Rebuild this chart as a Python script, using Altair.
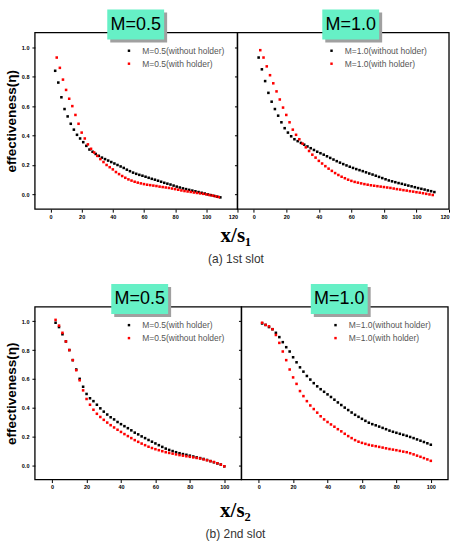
import altair as alt
import pandas as pd

# ---------------- data ----------------
# (a) 1st slot, M=0.5
TL_X_NO = [3,5,7,9,11,13,15,17,19,21,23,25,27,29,31,33,35,37,39,41,43,45,47,49,51,53,55,57,59,61,
           63,65,67,69,71,73,75,77,79,81,83,85,87,89,91,93,95,97,99,101,103,105,107,109]
TL_Y_NO = [0.84,0.76,0.66,0.58,0.53,0.48,0.44,0.405,0.38,0.355,
           0.33,0.305,0.29,0.275,0.262,0.25,0.24,0.23,0.22,0.21,
           0.20,0.19,0.18,0.168,0.158,0.148,0.14,0.133,0.127,0.12,
           0.113,0.106,0.1,0.093,0.086,0.079,0.073,0.067,0.06,0.053,
           0.047,0.041,0.036,0.031,0.026,0.021,0.016,0.011,0.006,0.0,
           -0.005,-0.01,-0.015,-0.02]
TL_X_WITH = [4,6,8,10,12,14,16,18,20,22,24,26,28,30,32,34,36,38,40,42,44,46,48,50,52,54,56,58,60,62,
             64,66,68,70,72,74,76,78,80,82,84,86,88,90,92,94,96,98,100,102,104,106,108]
TL_Y_WITH = [0.93,0.86,0.78,0.71,0.65,0.60,0.54,0.48,0.42,0.38,
             0.34,0.31,0.285,0.262,0.24,0.22,0.2,0.185,0.17,0.152,
             0.138,0.125,0.113,0.102,0.094,0.086,0.08,0.075,0.07,0.066,
             0.063,0.06,0.057,0.053,0.05,0.047,0.044,0.04,0.036,0.032,
             0.027,0.023,0.02,0.017,0.013,0.01,0.007,0.004,0.0,-0.004,
             -0.008,-0.013,-0.018]
# (a) 1st slot, M=1.0
TR_X_NO = [3,5,7,9,11,13,15,17,19,21,23,25,27,29,31,33,35,37,39,41,43,45,47,49,51,53,55,57,59,61,
           63,65,67,69,71,73,75,77,79,81,83,85,87,89,91,93,95,97,99,101,103,105,107,109,111]
TR_Y_NO = [0.93,0.85,0.77,0.69,0.63,0.58,0.535,0.49,0.45,0.42,
           0.395,0.375,0.362,0.35,0.338,0.326,0.314,0.302,0.29,0.28,
           0.27,0.259,0.248,0.237,0.226,0.216,0.206,0.197,0.188,0.18,
           0.172,0.165,0.158,0.15,0.142,0.135,0.127,0.119,0.111,0.103,
           0.095,0.089,0.083,0.077,0.072,0.066,0.06,0.055,0.049,0.043,
           0.038,0.033,0.027,0.022,0.016]
TR_X_WITH = [4,6,8,10,12,14,16,18,20,22,24,26,28,30,32,34,36,38,40,42,44,46,48,50,52,54,56,58,60,62,
             64,66,68,70,72,74,76,78,80,82,84,86,88,90,92,94,96,98,100,102,104,106,108,110]
TR_Y_WITH = [0.98,0.93,0.87,0.81,0.755,0.70,0.645,0.59,0.54,0.49,
             0.44,0.405,0.375,0.345,0.32,0.295,0.27,0.25,0.228,0.21,
             0.192,0.175,0.16,0.145,0.132,0.12,0.11,0.1,0.092,0.085,
             0.08,0.075,0.07,0.066,0.062,0.059,0.056,0.053,0.05,0.047,
             0.044,0.04,0.036,0.033,0.029,0.026,0.022,0.019,0.015,0.012,
             0.008,0.004,0.0,-0.004]
# (b) 2nd slot
B_X = [2,4,6,8,10,12,14,16,18,20,22,24,26,28,30,32,34,36,38,40,42,44,46,48,50,
       52,54,56,58,60,62,64,66,68,70,72,74,76,78,80,82,84,86,88,90,92,94,96,98,100]
BL_Y_WITH = [0.99,0.96,0.91,0.86,0.80,0.73,0.665,0.60,0.545,0.495,
             0.465,0.445,0.42,0.395,0.372,0.352,0.333,0.318,0.3,0.285,
             0.271,0.257,0.242,0.226,0.214,0.2,0.188,0.175,0.163,0.151,
             0.139,0.127,0.115,0.106,0.098,0.09,0.083,0.077,0.072,0.066,
             0.06,0.054,0.049,0.043,0.036,0.028,0.02,0.012,0.004,-0.008]
BL_Y_NO = [1.01,0.97,0.92,0.86,0.80,0.73,0.66,0.59,0.52,0.46,
           0.42,0.385,0.357,0.335,0.315,0.296,0.278,0.262,0.246,0.231,
           0.216,0.202,0.188,0.174,0.162,0.15,0.139,0.128,0.119,0.111,
           0.104,0.097,0.09,0.085,0.08,0.075,0.07,0.066,0.062,0.058,
           0.054,0.05,0.046,0.04,0.034,0.028,0.022,0.013,0.004,-0.008]
BR_Y_NO = [0.985,0.975,0.96,0.945,0.92,0.89,0.855,0.82,0.79,0.75,
           0.715,0.68,0.65,0.62,0.595,0.57,0.548,0.528,0.51,0.492,
           0.474,0.455,0.436,0.418,0.4,0.383,0.366,0.35,0.336,0.322,
           0.308,0.295,0.285,0.277,0.268,0.259,0.25,0.24,0.232,0.225,
           0.218,0.211,0.204,0.196,0.188,0.179,0.17,0.161,0.152,0.142]
BR_Y_WITH = [0.99,0.975,0.965,0.945,0.905,0.85,0.79,0.73,0.665,0.61,
             0.565,0.515,0.48,0.445,0.415,0.39,0.365,0.34,0.318,0.3,
             0.283,0.267,0.25,0.235,0.218,0.202,0.188,0.174,0.163,0.155,
             0.148,0.141,0.136,0.132,0.127,0.122,0.117,0.112,0.108,0.104,
             0.099,0.094,0.09,0.083,0.075,0.066,0.058,0.049,0.04,0.03]

Y_TICKS = [0.0, 0.2, 0.4, 0.6, 0.8, 1.0]
X_TICKS_TOP = [0, 20, 40, 60, 80, 100, 120]
X_TICKS_BOT = [0, 20, 40, 60, 80, 100]

BOX = "#66F0C6"


def panel(xk, yk, xr, yr, labels, title, w, h, xmax, xticks, left, box_dx):
    df = pd.DataFrame({
        "x": xk + xr,
        "y": yk + yr,
        "s": [labels[0]] * len(xk) + [labels[1]] * len(xr),
    })
    yaxis_kw = dict(values=Y_TICKS, format=".1f", labels=left, tickSize=3,
                    labelPadding=3)
    if left:
        yaxis_kw.update(title="effectiveness(η)", titleFont="Liberation Sans",
                        titleFontWeight="bold", titleFontSize=13.5, titlePadding=3,
                        titleColor="black")
    else:
        yaxis_kw.update(title="")
    pts = alt.Chart(df).mark_square(size=6.5, opacity=1).encode(
        x=alt.X("x:Q", scale=alt.Scale(domain=[-10, xmax], nice=False, zero=False),
                axis=alt.Axis(values=xticks, title="", tickSize=3, labelPadding=2)),
        y=alt.Y("y:Q", scale=alt.Scale(domain=[-0.1, 1.1], nice=False, zero=False),
                axis=alt.Axis(**yaxis_kw)),
        color=alt.Color("s:N", scale=alt.Scale(domain=labels, range=["#000000", "#ff0000"]),
                        legend=alt.Legend(orient="none", legendX=90, legendY=14, title="",
                                          labelFont="Liberation Sans", labelFontSize=8.5,
                                          labelColor="#555555", symbolType="square",
                                          symbolSize=6, rowPadding=4, labelOffset=9,
                                          symbolStrokeWidth=0)),
    )
    c = w / 2 + box_dx
    tdf = pd.DataFrame({"t": [title]})
    frame = alt.Chart(tdf).mark_rect(fillOpacity=0, stroke="black", strokeWidth=1.3).encode(
        x=alt.value(0), x2=alt.value(w), y=alt.value(0), y2=alt.value(h))
    shadow = alt.Chart(tdf).mark_rect(color="#a0a0a0").encode(
        x=alt.value(c - 26), x2=alt.value(c + 31), y=alt.value(-20), y2=alt.value(10))
    box = alt.Chart(tdf).mark_rect(color=BOX).encode(
        x=alt.value(c - 29), x2=alt.value(c + 28), y=alt.value(-23), y2=alt.value(7))
    txt = alt.Chart(tdf).mark_text(font="Liberation Sans", fontSize=18, color="black",
                                   baseline="middle", align="center").encode(
        x=alt.value(c - 0.5), y=alt.value(-7.5), text="t:N")
    return alt.layer(pts, frame, shadow, box, txt).properties(width=w, height=h)


tl = panel(TL_X_NO, TL_Y_NO, TL_X_WITH, TL_Y_WITH,
           ["M=0.5(without holder)", "M=0.5(with holder)"], "M=0.5", 203, 177, 120,
           X_TICKS_TOP, True, 0)
tr = panel(TR_X_NO, TR_Y_NO, TR_X_WITH, TR_Y_WITH,
           ["M=1.0(without holder)", "M=1.0(with holder)"], "M=1.0", 212, 177, 120,
           X_TICKS_TOP, False, 8)
bl = panel(B_X, BL_Y_WITH, B_X, BL_Y_NO,
           ["M=0.5(with holder)", "M=0.5(without holder)"], "M=0.5", 207, 173, 110,
           X_TICKS_BOT, True, 2)
br = panel(B_X, BR_Y_NO, B_X, BR_Y_WITH,
           ["M=1.0(without holder)", "M=1.0(with holder)"], "M=1.0", 207, 173, 110,
           X_TICKS_BOT, False, -5)


def row_title(main, sub, offset):
    return alt.TitleParams(text=main, subtitle=sub, orient="bottom", anchor="middle",
                           font="Liberation Serif", fontSize=21, fontWeight="bold",
                           color="black", subtitleFont="Liberation Sans",
                           subtitleFontSize=12, subtitleColor="#333333",
                           subtitlePadding=8, offset=offset, dx=9)


row1 = alt.hconcat(tl, tr, spacing=0, bounds="flush").resolve_scale(color="independent") \
    .properties(title=row_title("x/s₁", "(a)  1st  slot", 5))
row2 = alt.hconcat(bl, br, spacing=0, bounds="flush").resolve_scale(color="independent") \
    .properties(title=row_title("x/s₂", "(b)  2nd  slot", 10))

chart = alt.vconcat(row1, row2, spacing=19).resolve_scale(color="independent").properties(
    padding={"left": 4, "top": 9, "right": 4, "bottom": 0},
    background="white",
).configure_view(strokeOpacity=0).configure_axis(
    grid=False, domain=False, tickColor="black", labelColor="black",
    labelFont="Liberation Sans", labelFontWeight="bold", labelFontSize=5.5,
)

chart.save("out.html", embed_options={"renderer": "svg", "actions": False})
